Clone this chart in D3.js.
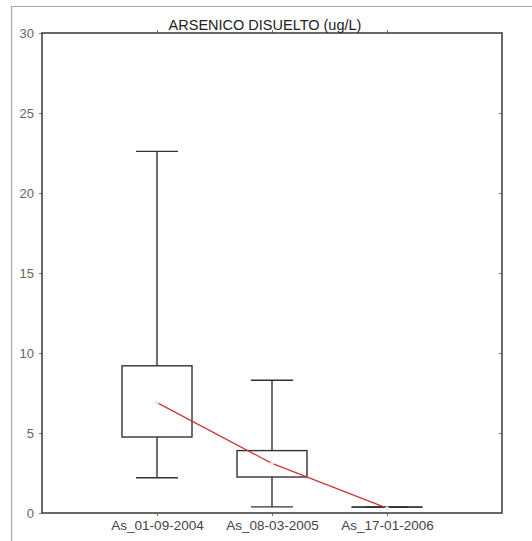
<!DOCTYPE html>
<html>
<head>
<meta charset="utf-8">
<script src="https://cdn.jsdelivr.net/npm/d3@7"></script>
<style>
  body { margin: 0; background: #fff; }
  svg { display: block; font-family: "Liberation Sans", Arial, sans-serif; }
</style>
</head>
<body>
<script>
// Datos
const categories = ["As_01-09-2004", "As_08-03-2005", "As_17-01-2006"];
const whiskerMax = [22.6, 8.3, 0.37];
const q3 = [9.2, 3.9, 0.37];
const q1 = [4.75, 2.25, 0.37];
const whiskerMin = [2.2, 0.38, 0.37];
const means = [6.9, 3.1, 0.3];
const yTicks = [0, 5, 10, 15, 20, 25, 30];

const width = 532;
const height = 541;
const margin = { top: 33, right: 30, bottom: 28, left: 42 };

const svg = d3.select("body").append("svg")
  .attr("width", width)
  .attr("height", height);

// marco exterior
svg.append("path")
  .attr("d", "M11.5," + height + " V6.5 H" + width)
  .attr("fill", "none")
  .attr("stroke", "#aaa")
  .attr("stroke-width", 1.2);

const x = d3.scaleLinear().domain([0, 4]).range([margin.left, width - margin.right]);
const y = d3.scaleLinear().domain([0, 30]).range([height - margin.bottom, margin.top]);

const g = svg.append("g");

// titulo
svg.append("text")
  .attr("x", 265)
  .attr("y", 30)
  .attr("text-anchor", "middle")
  .style("font-size", "14.5px")
  .attr("fill", "#222")
  .text("ARSENICO DISUELTO (ug/L)");

// ejes
const xPos = categories.map((d, i) => i + 1);

const yAxis = g.append("g")
  .attr("transform", "translate(" + margin.left + ",0)")
  .call(d3.axisLeft(y).tickValues(yTicks).tickSize(3).tickPadding(5));
yAxis.select(".domain").remove();
yAxis.selectAll("text").style("font-size", "13px").attr("fill", "#666");
yAxis.selectAll("line").attr("stroke", "#777");

const xAxis = g.append("g")
  .attr("transform", "translate(0," + y(0) + ")")
  .call(d3.axisBottom(x).tickValues(xPos).tickFormat((d, i) => categories[i]).tickSize(3).tickPadding(4));
xAxis.select(".domain").remove();
xAxis.selectAll("text").style("font-size", "13.5px").attr("fill", "#444");
xAxis.selectAll("line").attr("stroke", "#777");

// ticks superiores y derechos
g.append("g")
  .attr("transform", "translate(0," + y(30) + ")")
  .call(d3.axisTop(x).tickValues(xPos).tickFormat("").tickSize(3))
  .call(a => a.select(".domain").remove())
  .selectAll("line").attr("stroke", "#777");
g.append("g")
  .attr("transform", "translate(" + (width - margin.right) + ",0)")
  .call(d3.axisLeft(y).tickValues(yTicks.slice(1, -1)).tickFormat("").tickSize(3))
  .call(a => a.select(".domain").remove())
  .selectAll("line").attr("stroke", "#777");

// area del grafico
g.append("rect")
  .attr("x", x(0))
  .attr("y", y(30))
  .attr("width", x(4) - x(0))
  .attr("height", y(0) - y(30))
  .attr("fill", "none")
  .attr("stroke", "#444")
  .attr("stroke-width", 1.6);

// cajas
const boxW = 70;
const capW = 42;
const boxes = g.selectAll(".box")
  .data(categories.map((c, i) => ({ i: i + 1, max: whiskerMax[i], q3: q3[i], q1: q1[i], min: whiskerMin[i] })))
  .enter().append("g")
  .attr("class", "box")
  .attr("stroke", "#333")
  .attr("stroke-width", 1.4)
  .attr("fill", "none");

boxes.append("line")
  .attr("x1", d => x(d.i)).attr("x2", d => x(d.i))
  .attr("y1", d => y(d.max)).attr("y2", d => y(d.q3));
boxes.append("line")
  .attr("x1", d => x(d.i)).attr("x2", d => x(d.i))
  .attr("y1", d => y(d.q1)).attr("y2", d => y(d.min));
boxes.append("line")
  .attr("x1", d => x(d.i) - capW / 2).attr("x2", d => x(d.i) + capW / 2)
  .attr("y1", d => y(d.max)).attr("y2", d => y(d.max));
boxes.append("line")
  .attr("x1", d => x(d.i) - capW / 2).attr("x2", d => x(d.i) + capW / 2)
  .attr("y1", d => y(d.min)).attr("y2", d => y(d.min));
boxes.append("rect")
  .attr("x", d => x(d.i) - boxW / 2)
  .attr("y", d => y(d.q3))
  .attr("width", boxW)
  .attr("height", d => Math.max(0.01, y(d.q1) - y(d.q3)));
boxes.filter(d => d.q3 === d.q1).append("line")
  .attr("x1", d => x(d.i) - boxW / 2).attr("x2", d => x(d.i) + boxW / 2)
  .attr("y1", d => y(d.q1)).attr("y2", d => y(d.q1));

// linea de medias
const line = d3.line().x((d, i) => x(i + 1)).y(d => y(d));
g.append("path")
  .datum(means)
  .attr("d", line)
  .attr("fill", "none")
  .attr("stroke", "#cc3838")
  .attr("stroke-width", 1.3);

g.selectAll(".mean")
  .data(means)
  .enter().append("circle")
  .attr("class", "mean")
  .attr("cx", (d, i) => x(i + 1))
  .attr("cy", d => y(d))
  .attr("r", 2)
  .attr("fill", "#f4e4e4");
</script>
</body>
</html>
